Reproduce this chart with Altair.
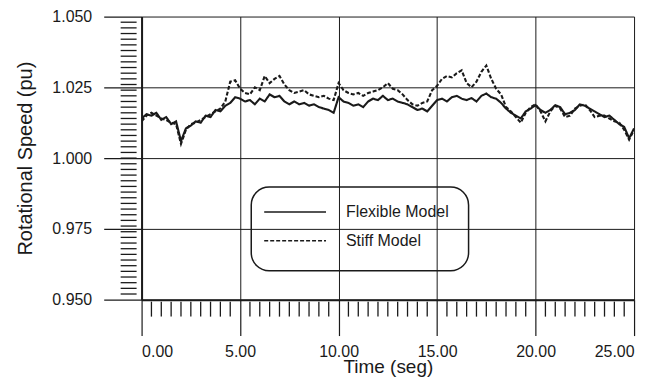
import altair as alt
import pandas as pd

# ---- data ----
time_s = [round(i * 0.25, 2) for i in range(101)]

flexible = [
    1.0140, 1.0155, 1.0150, 1.0160, 1.0135, 1.0145, 1.0120, 1.0130, 1.0060, 1.0105,
    1.0115, 1.0130, 1.0125, 1.0150, 1.0145, 1.0170, 1.0165, 1.0185, 1.0195, 1.0215,
    1.0210, 1.0200, 1.0205, 1.0190, 1.0210, 1.0200, 1.0225, 1.0215, 1.0220, 1.0200,
    1.0190, 1.0200, 1.0190, 1.0195, 1.0185, 1.0190, 1.0180, 1.0175, 1.0170, 1.0160,
    1.0215, 1.0200, 1.0195, 1.0185, 1.0190, 1.0180, 1.0200, 1.0210, 1.0205, 1.0220,
    1.0205, 1.0210, 1.0200, 1.0195, 1.0190, 1.0180, 1.0170, 1.0175, 1.0165, 1.0185,
    1.0205, 1.0210, 1.0200, 1.0215, 1.0220, 1.0210, 1.0205, 1.0212, 1.0200, 1.0220,
    1.0228, 1.0215, 1.0210, 1.0195, 1.0175, 1.0160, 1.0150, 1.0140, 1.0165, 1.0175,
    1.0187, 1.0170, 1.0160, 1.0170, 1.0187, 1.0180, 1.0155, 1.0160, 1.0170, 1.0190,
    1.0185, 1.0175, 1.0165, 1.0155, 1.0145, 1.0150, 1.0135, 1.0120, 1.0110, 1.0070,
    1.0105,
]

stiff = [
    1.0130, 1.0150, 1.0160, 1.0150, 1.0140, 1.0135, 1.0125, 1.0120, 1.0050, 1.0100,
    1.0120, 1.0125, 1.0135, 1.0145, 1.0155, 1.0165, 1.0175, 1.0200, 1.0270, 1.0275,
    1.0245, 1.0230, 1.0225, 1.0250, 1.0240, 1.0290, 1.0265, 1.0280, 1.0290, 1.0260,
    1.0240, 1.0230, 1.0235, 1.0240, 1.0225, 1.0220, 1.0215, 1.0220, 1.0210, 1.0205,
    1.0265, 1.0240, 1.0230, 1.0225, 1.0230, 1.0220, 1.0230, 1.0235, 1.0240, 1.0250,
    1.0265, 1.0245, 1.0240, 1.0225, 1.0205, 1.0190, 1.0185, 1.0195, 1.0200, 1.0240,
    1.0255, 1.0280, 1.0290, 1.0285, 1.0300, 1.0310, 1.0265, 1.0250, 1.0270, 1.0305,
    1.0327, 1.0280, 1.0245, 1.0225, 1.0180, 1.0165, 1.0145, 1.0125, 1.0160, 1.0180,
    1.0190, 1.0165, 1.0130, 1.0165, 1.0185, 1.0175, 1.0145, 1.0150, 1.0175, 1.0185,
    1.0190, 1.0170, 1.0145, 1.0150, 1.0150, 1.0140, 1.0130, 1.0125, 1.0100, 1.0065,
    1.0100,
]

models = ["Flexible Model", "Stiff Model"]
x_major = [0, 5, 10, 15, 20, 25]
y_major = [0.95, 0.975, 1.0, 1.025, 1.05]
x_minor = [round(0.5 * i, 2) for i in range(1, 50) if i % 10 != 0]
y_minor = [round(0.95 + 0.002 * i, 3) for i in range(1, 50)]

# ---- layout ----
W, H = 494, 284
FONT = "Liberation Sans"
INK = "#1a1a1a"

df = pd.DataFrame({
    "t": time_s * 2,
    "v": flexible + stiff,
    "model": [models[0]] * len(time_s) + [models[1]] * len(time_s),
})

x_scale = alt.Scale(domain=[0, 25], nice=False, zero=False)
y_scale = alt.Scale(domain=[0.95, 1.05], nice=False, zero=False)

x_axis = alt.Axis(values=x_major, format=".2f", title="Time (seg)", tickSize=36,
                  labelPadding=8, titleX=W / 2, titleY=73, titleBaseline="alphabetic",
                  titleAlign="center", titleFontSize=19)
y_axis = alt.Axis(values=y_major, format=".3f", title="Rotational Speed (pu)", tickSize=38,
                  labelPadding=12, titleX=-110, titleY=H / 2, titleBaseline="alphabetic",
                  titleAlign="center", titleAngle=270)

lines = alt.Chart(df).mark_line(color=INK, strokeWidth=2.1, clip=True).encode(
    x=alt.X("t:Q", scale=x_scale, axis=x_axis),
    y=alt.Y("v:Q", scale=y_scale, axis=y_axis),
    strokeDash=alt.StrokeDash("model:N",
                              scale=alt.Scale(domain=models, range=[[1, 0], [4, 2]]),
                              legend=None),
    detail="model:N",
)

xminor = alt.Chart(pd.DataFrame({"t": x_minor})).mark_rule(color=INK, strokeWidth=1.3).encode(
    x=alt.X("t:Q", scale=x_scale, axis=x_axis),
    y=alt.value(H + 2),
    y2=alt.value(H + 17),
)

yminor = alt.Chart(pd.DataFrame({"v": y_minor})).mark_rule(color=INK, strokeWidth=1.3).encode(
    y=alt.Y("v:Q", scale=y_scale, axis=y_axis),
    x=alt.value(-21),
    x2=alt.value(-5),
)

# ---- legend drawn as a rounded box ----
box = alt.Chart(pd.DataFrame({"a": [0]})).mark_rect(
    fillOpacity=0, stroke=INK, strokeWidth=1.5, cornerRadius=18
).encode(
    x=alt.value(110), x2=alt.value(328), y=alt.value(171), y2=alt.value(255)
)
leg_solid = alt.Chart(pd.DataFrame({"a": [0]})).mark_rule(color=INK, strokeWidth=1.5).encode(
    x=alt.value(123), x2=alt.value(185), y=alt.value(196)
)
leg_dash = alt.Chart(pd.DataFrame({"a": [0]})).mark_rule(
    color=INK, strokeWidth=1.5, strokeDash=[4, 2]
).encode(
    x=alt.value(123), x2=alt.value(185), y=alt.value(225)
)
leg_t1 = alt.Chart(pd.DataFrame({"label": [models[0]]})).mark_text(
    font=FONT, fontSize=16, align="left", baseline="middle", color=INK
).encode(text="label:N", x=alt.value(205), y=alt.value(196))
leg_t2 = alt.Chart(pd.DataFrame({"label": [models[1]]})).mark_text(
    font=FONT, fontSize=16, align="left", baseline="middle", color=INK
).encode(text="label:N", x=alt.value(205), y=alt.value(225))

chart = alt.layer(lines, xminor, yminor, box, leg_solid, leg_dash, leg_t1, leg_t2).properties(
    width=W, height=H,
    autosize=alt.AutoSizeParams(type="none"),
    padding={"left": 134, "top": 8, "right": 20, "bottom": 79},
).configure_view(stroke=None).configure_axis(
    domainColor=INK, domainWidth=2, tickColor=INK, tickWidth=1.2,
    grid=True, gridColor=INK, gridWidth=1, gridOpacity=1,
    labelFont=FONT, labelFontSize=16, labelColor=INK,
    titleFont=FONT, titleFontSize=20, titleFontWeight="normal", titleColor=INK,
)

chart.save("out.html", embed_options={"renderer": "svg", "actions": False})
